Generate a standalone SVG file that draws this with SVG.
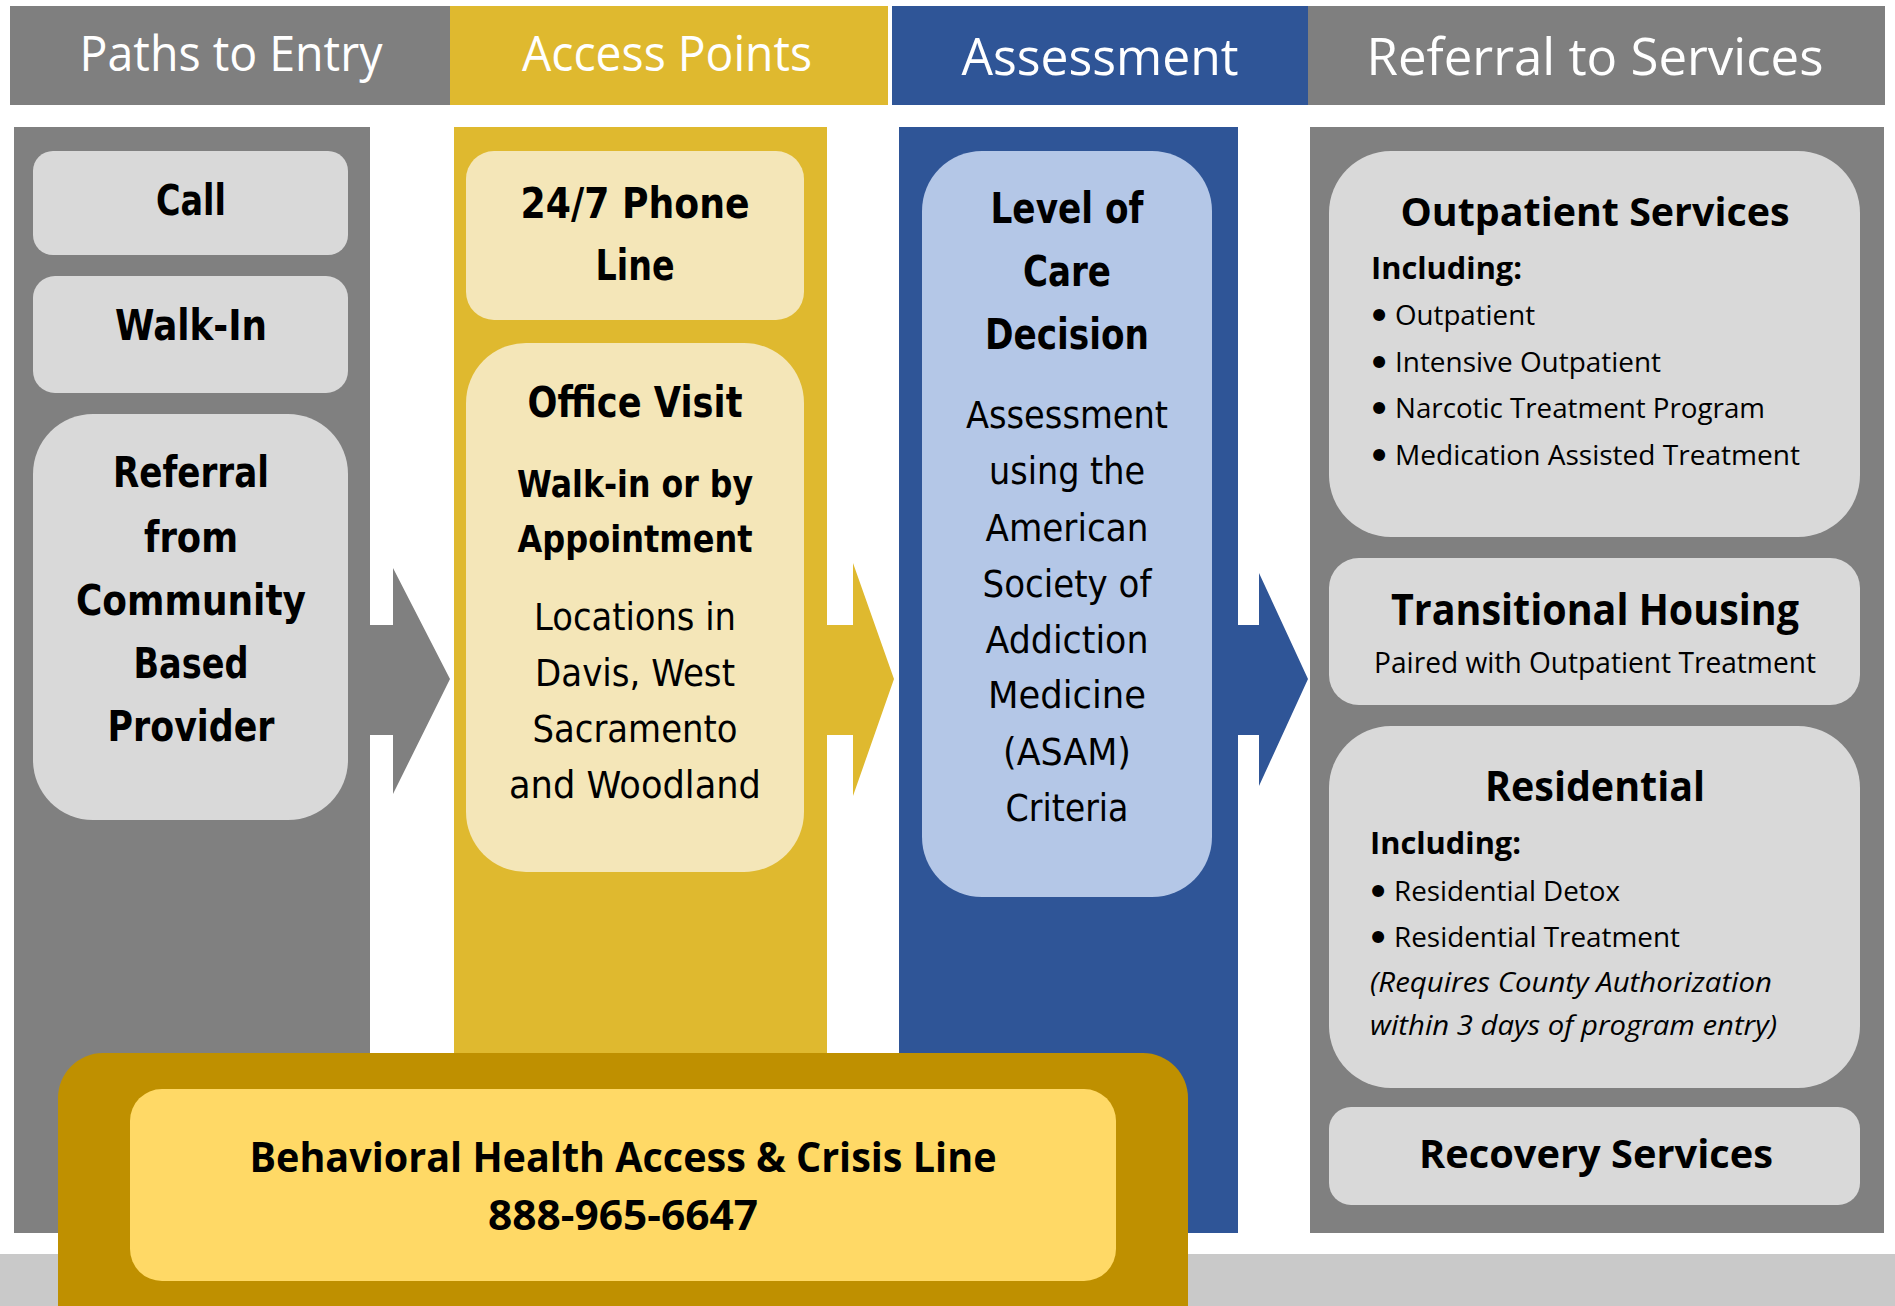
<svg xmlns="http://www.w3.org/2000/svg" width="1895" height="1306" viewBox="0 0 1895 1306">
<style>
.hd{font-family:"Open Sans","Liberation Sans",sans-serif;font-weight:normal;fill:#fff;text-anchor:middle}
.vb{font-family:"DejaVu Sans","Liberation Sans",sans-serif;font-weight:bold;fill:#000;text-anchor:middle}
.vr{font-family:"DejaVu Sans","Liberation Sans",sans-serif;font-weight:normal;fill:#000;text-anchor:middle}
.cb{font-family:"Open Sans","Liberation Sans",sans-serif;font-weight:bold;fill:#000}
.cr{font-family:"Open Sans","Liberation Sans",sans-serif;font-weight:normal;fill:#000}
.ci{font-family:"Open Sans","Liberation Sans",sans-serif;font-style:italic;fill:#000}
.bu{font-family:"DejaVu Sans","Liberation Sans",sans-serif;font-weight:bold;fill:#000;text-anchor:middle}
.mid{text-anchor:middle}
.gbox{fill:#d9d9d9}
.ybox{fill:#f4e6b8}
.bbox{fill:#b4c7e7}
</style>
<rect width="1895" height="1306" fill="#ffffff"/>
<rect x="0" y="1254" width="1895" height="52" fill="#c9c9c9"/>

<g id="headers">
<rect x="10" y="6" width="440" height="99" fill="#7f7f7f"/>
<rect x="450" y="6" width="438" height="99" fill="#dfb92f"/>
<rect x="892" y="6" width="416" height="99" fill="#2f5597"/>
<rect x="1308" y="6" width="577" height="99" fill="#7f7f7f"/>
<text class="hd" x="231" y="71" font-size="49" textLength="303" lengthAdjust="spacingAndGlyphs">Paths to Entry</text>
<text class="hd" x="667" y="71" font-size="49" textLength="290" lengthAdjust="spacingAndGlyphs">Access Points</text>
<text class="hd" x="1100" y="75" font-size="52" textLength="277" lengthAdjust="spacingAndGlyphs">Assessment</text>
<text class="hd" x="1595" y="75" font-size="52" textLength="457" lengthAdjust="spacingAndGlyphs">Referral to Services</text>
</g>

<g id="columns">
<rect x="14" y="127" width="356" height="1106" fill="#808080"/>
<rect x="454" y="127" width="373" height="1106" fill="#dfb92f"/>
<rect x="899" y="127" width="339" height="1106" fill="#2f5597"/>
<rect x="1310" y="127" width="574" height="1106" fill="#808080"/>
</g>

<g id="connectors">
<polygon points="365,625 393,625 393,568 450,679 393,794 393,735 365,735" fill="#808080"/>
<polygon points="822,625 853,625 853,563 894,679 853,796 853,735 822,735" fill="#dfb92f"/>
<polygon points="1233,625 1259,625 1259,573 1308,679 1259,786 1259,735 1233,735" fill="#2f5597"/>
</g>

<g id="node-call">
<rect class="gbox" x="33" y="151" width="315" height="104" rx="20"/>
<text class="vb" x="191" y="215" font-size="43" textLength="70" lengthAdjust="spacingAndGlyphs">Call</text>
</g>
<g id="node-walkin">
<rect class="gbox" x="33" y="276" width="315" height="117" rx="22"/>
<text class="vb" x="191" y="340" font-size="43" textLength="152" lengthAdjust="spacingAndGlyphs">Walk-In</text>
</g>
<g id="node-referral">
<rect class="gbox" x="33" y="414" width="315" height="406" rx="60"/>
<text class="vb" x="191" y="487" font-size="43" textLength="156" lengthAdjust="spacingAndGlyphs">Referral</text>
<text class="vb" x="191" y="552" font-size="43" textLength="94" lengthAdjust="spacingAndGlyphs">from</text>
<text class="vb" x="191" y="615" font-size="43" textLength="230" lengthAdjust="spacingAndGlyphs">Community</text>
<text class="vb" x="191" y="678" font-size="43" textLength="115" lengthAdjust="spacingAndGlyphs">Based</text>
<text class="vb" x="191" y="741" font-size="43" textLength="167" lengthAdjust="spacingAndGlyphs">Provider</text>
</g>

<g id="node-phone">
<rect class="ybox" x="466" y="151" width="338" height="169" rx="28"/>
<text class="vb" x="635" y="218" font-size="43" textLength="229" lengthAdjust="spacingAndGlyphs">24/7 Phone</text>
<text class="vb" x="635" y="280" font-size="43" textLength="79" lengthAdjust="spacingAndGlyphs">Line</text>
</g>
<g id="node-office">
<rect class="ybox" x="466" y="343" width="338" height="529" rx="60"/>
<text class="vb" x="635" y="417" font-size="43" textLength="215" lengthAdjust="spacingAndGlyphs">Office Visit</text>
<text class="vb" x="635" y="497" font-size="38" textLength="236" lengthAdjust="spacingAndGlyphs">Walk-in or by</text>
<text class="vb" x="635" y="552" font-size="38" textLength="235" lengthAdjust="spacingAndGlyphs">Appointment</text>
<text class="vr" x="635" y="630" font-size="37" textLength="202" lengthAdjust="spacingAndGlyphs">Locations in</text>
<text class="vr" x="635" y="686" font-size="37" textLength="200" lengthAdjust="spacingAndGlyphs">Davis, West</text>
<text class="vr" x="635" y="742" font-size="37" textLength="205" lengthAdjust="spacingAndGlyphs">Sacramento</text>
<text class="vr" x="635" y="798" font-size="37" textLength="252" lengthAdjust="spacingAndGlyphs">and Woodland</text>
</g>

<g id="node-loc">
<rect class="bbox" x="922" y="151" width="290" height="746" rx="60"/>
<text class="vb" x="1067" y="223" font-size="43" textLength="153" lengthAdjust="spacingAndGlyphs">Level of</text>
<text class="vb" x="1067" y="286" font-size="43" textLength="88" lengthAdjust="spacingAndGlyphs">Care</text>
<text class="vb" x="1067" y="349" font-size="43" textLength="164" lengthAdjust="spacingAndGlyphs">Decision</text>
<text class="vr" x="1067" y="428" font-size="37" textLength="202" lengthAdjust="spacingAndGlyphs">Assessment</text>
<text class="vr" x="1067" y="484" font-size="37" textLength="156" lengthAdjust="spacingAndGlyphs">using the</text>
<text class="vr" x="1067" y="541" font-size="37" textLength="163" lengthAdjust="spacingAndGlyphs">American</text>
<text class="vr" x="1067" y="597" font-size="37" textLength="169" lengthAdjust="spacingAndGlyphs">Society of</text>
<text class="vr" x="1067" y="653" font-size="37" textLength="163" lengthAdjust="spacingAndGlyphs">Addiction</text>
<text class="vr" x="1067" y="708" font-size="37" textLength="158" lengthAdjust="spacingAndGlyphs">Medicine</text>
<text class="vr" x="1067" y="765" font-size="37" textLength="128" lengthAdjust="spacingAndGlyphs">(ASAM)</text>
<text class="vr" x="1067" y="821" font-size="37" textLength="123" lengthAdjust="spacingAndGlyphs">Criteria</text>
</g>

<g id="node-outpatient">
<rect class="gbox" x="1329" y="151" width="531" height="386" rx="62"/>
<text class="cb mid" x="1595" y="226" font-size="40" textLength="389" lengthAdjust="spacingAndGlyphs">Outpatient Services</text>
<text class="cb" x="1371" y="279" font-size="30" textLength="151" lengthAdjust="spacingAndGlyphs">Including:</text>
<text class="bu" x="1379" y="328" font-size="34">•</text>
<text class="cr" x="1395" y="325" font-size="28" textLength="140" lengthAdjust="spacingAndGlyphs">Outpatient</text>
<text class="bu" x="1379" y="375" font-size="34">•</text>
<text class="cr" x="1395" y="372" font-size="28" textLength="266" lengthAdjust="spacingAndGlyphs">Intensive Outpatient</text>
<text class="bu" x="1379" y="421" font-size="34">•</text>
<text class="cr" x="1395" y="418" font-size="28" textLength="370" lengthAdjust="spacingAndGlyphs">Narcotic Treatment Program</text>
<text class="bu" x="1379" y="468" font-size="34">•</text>
<text class="cr" x="1395" y="465" font-size="28" textLength="405" lengthAdjust="spacingAndGlyphs">Medication Assisted Treatment</text>
</g>

<g id="node-transitional">
<rect class="gbox" x="1329" y="558" width="531" height="147" rx="30"/>
<text class="cb mid" x="1595" y="625" font-size="43" textLength="408" lengthAdjust="spacingAndGlyphs">Transitional Housing</text>
<text class="cr mid" x="1595" y="673" font-size="29" textLength="442" lengthAdjust="spacingAndGlyphs">Paired with Outpatient Treatment</text>
</g>

<g id="node-residential">
<rect class="gbox" x="1329" y="726" width="531" height="362" rx="62"/>
<text class="cb mid" x="1595" y="801" font-size="42" textLength="220" lengthAdjust="spacingAndGlyphs">Residential</text>
<text class="cb" x="1370" y="854" font-size="30" textLength="151" lengthAdjust="spacingAndGlyphs">Including:</text>
<text class="bu" x="1378" y="904" font-size="34">•</text>
<text class="cr" x="1394" y="901" font-size="28" textLength="226" lengthAdjust="spacingAndGlyphs">Residential Detox</text>
<text class="bu" x="1378" y="950" font-size="34">•</text>
<text class="cr" x="1394" y="947" font-size="28" textLength="286" lengthAdjust="spacingAndGlyphs">Residential Treatment</text>
<text class="ci" x="1370" y="992" font-size="28" textLength="402" lengthAdjust="spacingAndGlyphs">(Requires County Authorization</text>
<text class="ci" x="1370" y="1035" font-size="28" textLength="407" lengthAdjust="spacingAndGlyphs">within 3 days of program entry)</text>
</g>

<g id="node-recovery">
<rect class="gbox" x="1329" y="1107" width="531" height="98" rx="22"/>
<text class="cb mid" x="1596" y="1168" font-size="40" textLength="354" lengthAdjust="spacingAndGlyphs">Recovery Services</text>
</g>

<g id="node-crisis">
<rect x="58" y="1053" width="1130" height="300" rx="45" fill="#bf9000"/>
<rect x="130" y="1089" width="986" height="192" rx="32" fill="#ffd966"/>
<text class="cb mid" x="623" y="1172" font-size="41" textLength="747" lengthAdjust="spacingAndGlyphs">Behavioral Health Access &amp; Crisis Line</text>
<text class="cb mid" x="623" y="1230" font-size="41" textLength="270" lengthAdjust="spacingAndGlyphs">888-965-6647</text>
</g>
</svg>
